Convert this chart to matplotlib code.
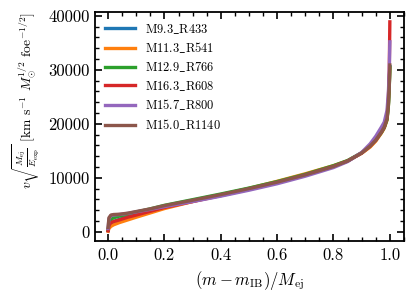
import matplotlib
matplotlib.use('Agg')
import matplotlib.pyplot as plt
from matplotlib.ticker import AutoMinorLocator

plt.rcParams['font.family'] = 'serif'
plt.rcParams['font.serif'] = ['cmr10']
plt.rcParams['mathtext.fontset'] = 'cm'
plt.rcParams['axes.formatter.use_mathtext'] = True
plt.rcParams['axes.unicode_minus'] = False

# mass coordinate (m - m_IB)/M_ej
mass = [0, 0.003, 0.01, 0.02, 0.04, 0.07, 0.1, 0.15, 0.2, 0.3, 0.4, 0.5, 0.6,
        0.7, 0.8, 0.85, 0.9, 0.93, 0.95, 0.97, 0.98, 0.99, 0.995, 0.998, 1.0]

models = ["M9.3_R433", "M11.3_R541", "M12.9_R766", "M16.3_R608", "M15.7_R800", "M15.0_R1140"]

v_m93 = [200, 1100, 1600, 1900, 2300, 2800, 3300, 3950, 4600, 5700, 6800, 7950, 9150,
         10550, 12150, 13100, 14600, 15800, 16900, 18400, 19300, 20900, 23700, 27200, 30600]
v_m113 = [100, 600, 1000, 1300, 1700, 2200, 2700, 3500, 4300, 5600, 6850, 8050, 9350,
          10750, 12250, 13150, 14550, 15700, 16800, 18300, 19200, 20700, 23500, 27000, 30300]
v_m129 = [300, 1600, 2300, 2600, 2900, 3250, 3650, 4250, 4900, 5950, 7000, 8100, 9300,
          10650, 12250, 13200, 14650, 15900, 17000, 18400, 19300, 20800, 23500, 27000, 30500]
v_m163 = [200, 1200, 1700, 1900, 2200, 2700, 3100, 3800, 4500, 5600, 6700, 7850, 9100,
          10500, 12100, 13100, 14600, 15900, 17000, 18500, 19400, 21200, 25000, 30000, 38900]
v_m157 = [600, 2400, 3000, 3100, 3200, 3400, 3700, 4150, 4650, 5600, 6600, 7700, 8900,
          10300, 11900, 13000, 14700, 16300, 17700, 19400, 20300, 22500, 26000, 30000, 35200]
v_m150 = [800, 2600, 3100, 3200, 3250, 3450, 3750, 4250, 4850, 5850, 6900, 8000, 9200,
          10550, 12100, 13100, 14600, 15900, 17000, 18500, 19400, 21000, 24000, 27500, 30900]

series = [v_m93, v_m113, v_m129, v_m163, v_m157, v_m150]

fig = plt.figure(figsize=(4.16, 2.98), dpi=100)
ax = fig.add_axes([0.228, 0.191, 0.743, 0.769])

for name, v in zip(models, series):
    ax.plot(mass, v, lw=2.4, label=r'$\mathrm{' + name.replace('_', r'\_') + '}$')

ax.set_xlim(-0.047, 1.05)
ax.set_ylim(-1725, 40740)
ax.set_xticks([0.0, 0.2, 0.4, 0.6, 0.8, 1.0])
ax.set_yticks([0, 10000, 20000, 30000, 40000])
ax.set_xticklabels(['0.0', '0.2', '0.4', '0.6', '0.8', '1.0'])
ax.set_yticklabels(['0', '10000', '20000', '30000', '40000'])
ax.xaxis.set_minor_locator(AutoMinorLocator(4))
ax.yaxis.set_minor_locator(AutoMinorLocator(5))
ax.tick_params(which='both', direction='in', top=True, right=True, labelsize=12)
ax.tick_params(which='major', length=5, width=1.2)
ax.tick_params(which='minor', length=3, width=1)
ax.tick_params(axis='x', which='major', pad=5)
for s in ax.spines.values():
    s.set_linewidth(1.3)

ax.set_xlabel(r'$(m-m_{\rm IB})/M_{\rm ej}$', fontsize=12)
ax.set_ylabel(r'$v\sqrt{\frac{M_{\rm ej}}{E_{\rm exp}}}$ [km s$^{-1}$ $M_{\odot}^{1/2}$ foe$^{-1/2}$]',
              fontsize=9.8)
ax.yaxis.set_label_coords(-0.172, 0.615)

ax.legend(loc='upper left', frameon=False, fontsize=9, handlelength=2.4,
          handletextpad=0.8, labelspacing=0.38, borderaxespad=0.4)

plt.savefig('out.png', dpi=100)
